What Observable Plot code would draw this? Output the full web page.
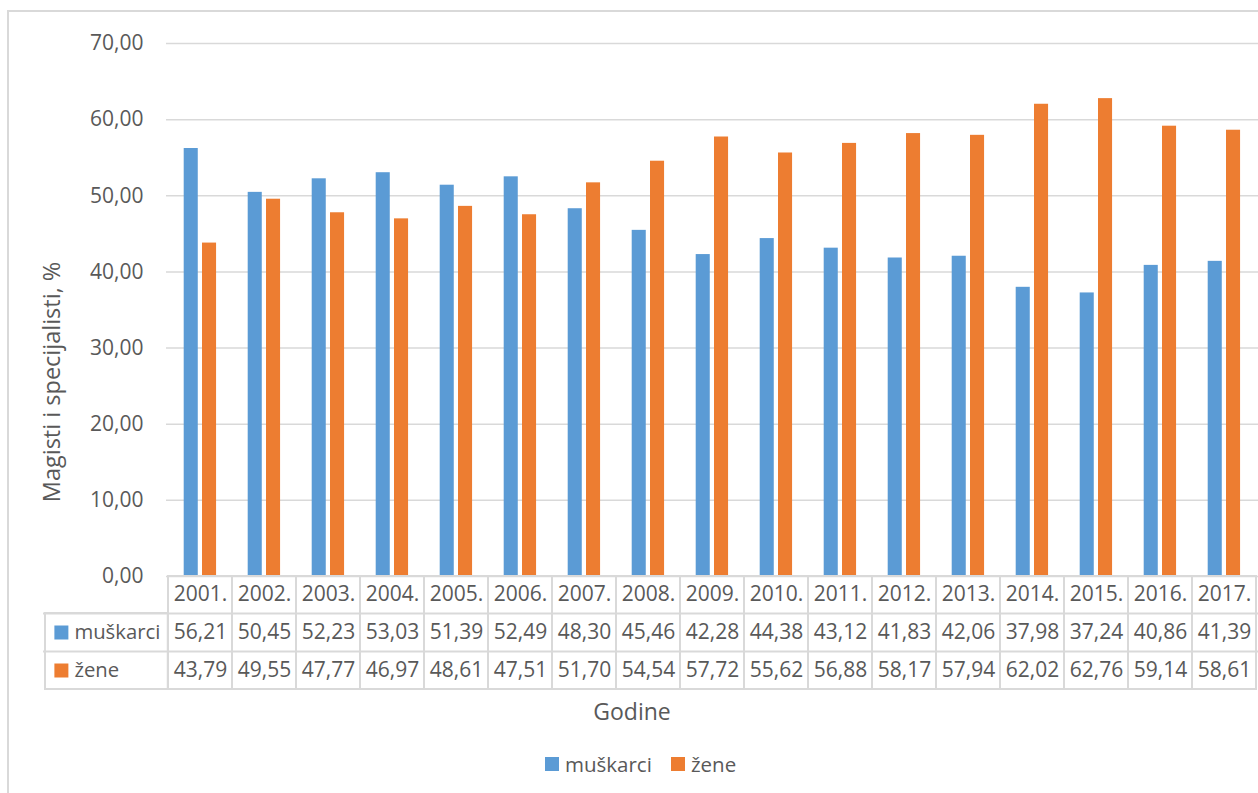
<!DOCTYPE html>
<html><head><meta charset="utf-8">
<script src="https://cdn.jsdelivr.net/npm/d3@7"></script>
<script src="https://cdn.jsdelivr.net/npm/@observablehq/plot@0.6"></script>
<style>
body{margin:0;background:#fff;overflow:hidden;font-family:"Open Sans",sans-serif;}
#frame{position:absolute;left:7px;top:10px;width:1300px;height:850px;border:2px solid #d9d9d9;box-sizing:border-box;}
#chart{position:absolute;left:0;top:0;}
.leg{position:absolute;top:751px;height:26px;display:flex;align-items:center;font-size:20.5px;color:#595959;}
.sw{width:14px;height:14px;margin-right:6px;display:inline-block;}
</style></head>
<body>
<div id="frame"></div>
<div id="chart"></div>
<div id="legend"></div>
<script>
const years = ["2001.","2002.","2003.","2004.","2005.","2006.","2007.","2008.","2009.","2010.","2011.","2012.","2013.","2014.","2015.","2016.","2017."];
const muskarci = [56.21,50.45,52.23,53.03,51.39,52.49,48.30,45.46,42.28,44.38,43.12,41.83,42.06,37.98,37.24,40.86,41.39];
const zene = [43.79,49.55,47.77,46.97,48.61,47.51,51.70,54.54,57.72,55.62,56.88,58.17,57.94,62.02,62.76,59.14,58.61];
const seriesNames = ["muškarci","žene"];
const colors = ["#5b9bd5","#ed7d31"];
const yTicks = [0,10,20,30,40,50,60,70];
const yLabel = "Magisti i specijalisti, %";
const xLabel = "Godine";

const W = 1258, H = 735, mL = 166, mR = 0, mT = 43, mB = 159;
const bw = (W - mL - mR) / years.length;
const fmt = v => d3.format(".2f")(v).replace(".", ",");
const rows = years.map((y, i) => ({year: y, m: muskarci[i], z: zene[i]}));
const grid = "#d9d9d9";
const txt = "#595959";
const FS = 21;
const labelDx = x => x - (mL + bw / 2);
const tableText = {frameAnchor: "bottom", lineAnchor: "middle", fontSize: FS, fill: txt};

const chart = Plot.plot({
  width: W, height: H,
  marginLeft: mL, marginRight: mR, marginTop: mT, marginBottom: mB,
  style: {fontFamily: '"Open Sans", sans-serif', fontSize: FS + "px", color: txt, background: "transparent", overflow: "visible"},
  x: {domain: years, padding: 0, axis: null},
  y: {domain: [0, 70], axis: null},
  marks: [
    Plot.ruleY(yTicks, {stroke: grid, strokeWidth: 1.5}),
    Plot.axisY(yTicks, {tickSize: 0, tickPadding: 23, tickFormat: fmt, fontSize: FS, label: null}),
    Plot.barY(rows, {x: "year", y: "m", fill: colors[0], insetLeft: 15.7, insetRight: bw - 30}),
    Plot.barY(rows, {x: "year", y: "z", fill: colors[1], insetLeft: 34, insetRight: bw - 48.3}),
    // data table
    Plot.barY(rows, {x: "year", y1: 0, y2: 0, fill: "none", stroke: grid, strokeWidth: 2, insetBottom: -113}),
    Plot.barY([years[0]], {x: d => d, y1: 0, y2: 0, fill: "none", stroke: grid, strokeWidth: 2, insetLeft: -123, insetRight: bw, insetTop: 37, insetBottom: -113}),
    Plot.ruleY([0], {dy: 37, insetLeft: -123, stroke: grid, strokeWidth: 2}),
    Plot.ruleY([0], {dy: 75, insetLeft: -123, stroke: grid, strokeWidth: 2}),
    Plot.text(years, {x: d => d, text: d => d, dy: 18, ...tableText}),
    Plot.text(rows, {x: "year", text: d => fmt(d.m), dy: 56, ...tableText}),
    Plot.text(rows, {x: "year", text: d => fmt(d.z), dy: 94, ...tableText}),
    Plot.text([seriesNames[0]], {x: () => years[0], text: d => d, dy: 56, dx: labelDx(72), textAnchor: "start", ...tableText, fontSize: 20.3}),
    Plot.text([seriesNames[1]], {x: () => years[0], text: d => d, dy: 94, dx: labelDx(72), textAnchor: "start", ...tableText, fontSize: 20.3}),
    Plot.dot([seriesNames[0]], {x: () => years[0], frameAnchor: "bottom", dy: 56, dx: labelDx(59), symbol: "square", r: 7.9, fill: colors[0], stroke: null}),
    Plot.dot([seriesNames[1]], {x: () => years[0], frameAnchor: "bottom", dy: 94, dx: labelDx(59), symbol: "square", r: 7.9, fill: colors[1], stroke: null}),
    // axis titles
    Plot.text([yLabel], {text: d => d, frameAnchor: "left", textAnchor: "middle", lineAnchor: "middle", rotate: -90, dx: 52 - mL, dy: 72, fontSize: 23.5, fill: txt}),
    Plot.text([xLabel], {text: d => d, frameAnchor: "bottom", lineAnchor: "middle", dy: 136, dx: 631.5 - (mL + (W - mL - mR) / 2), fontSize: 23, fill: txt})
  ]
});
document.getElementById("chart").appendChild(chart);

const legend = document.getElementById("legend");
const legX = [545, 671];
seriesNames.forEach((name, i) => {
  const d = document.createElement("div");
  d.className = "leg";
  d.style.left = legX[i] + "px";
  d.innerHTML = `<span class="sw" style="background:${colors[i]}"></span><span>${name}</span>`;
  legend.appendChild(d);
});
</script>
</body></html>
